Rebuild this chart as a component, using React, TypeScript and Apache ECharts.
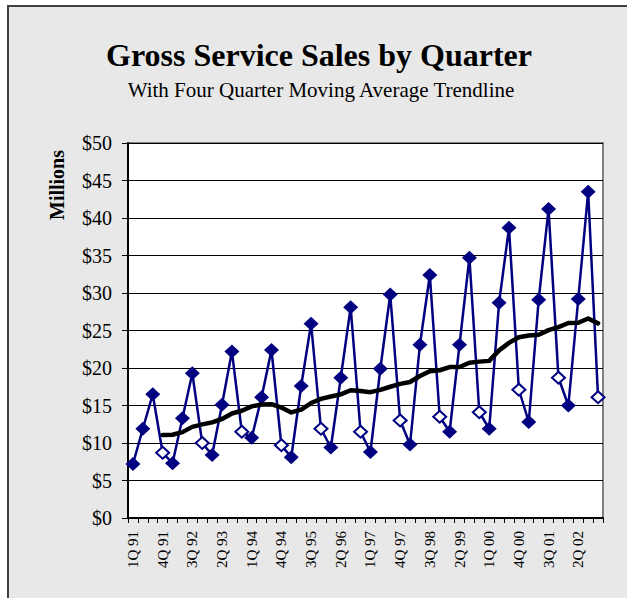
import React, { useEffect, useRef } from "react";
import * as echarts from "echarts";

const quarters = [
  "1Q 91", "2Q 91", "3Q 91", "4Q 91",
  "1Q 92", "2Q 92", "3Q 92", "4Q 92",
  "1Q 93", "2Q 93", "3Q 93", "4Q 93",
  "1Q 94", "2Q 94", "3Q 94", "4Q 94",
  "1Q 95", "2Q 95", "3Q 95", "4Q 95",
  "1Q 96", "2Q 96", "3Q 96", "4Q 96",
  "1Q 97", "2Q 97", "3Q 97", "4Q 97",
  "1Q 98", "2Q 98", "3Q 98", "4Q 98",
  "1Q 99", "2Q 99", "3Q 99", "4Q 99",
  "1Q 00", "2Q 00", "3Q 00", "4Q 00",
  "1Q 01", "2Q 01", "3Q 01", "4Q 01",
  "1Q 02", "2Q 02", "3Q 02", "4Q 02",
];

const grossSales = [
  7.2, 11.9, 16.5, 8.7,
  7.3, 13.3, 19.3, 10.0,
  8.4, 15.1, 22.2, 11.5,
  10.7, 16.1, 22.4, 9.7,
  8.1, 17.6, 25.9, 11.9,
  9.4, 18.7, 28.1, 11.5,
  8.8, 19.9, 29.8, 13.0,
  9.8, 23.1, 32.4, 13.5,
  11.5, 23.1, 34.7, 14.1,
  11.9, 28.7, 38.7, 17.1,
  12.8, 29.1, 41.2, 18.7,
  15.0, 29.2, 43.5, 16.1,
];

const movingAverage = [
  null, null, null, 11.08,
  11.1, 11.45, 12.15, 12.48,
  12.75, 13.2, 13.93, 14.3,
  14.88, 15.13, 15.18, 14.73,
  14.08, 14.45, 15.33, 15.88,
  16.2, 16.48, 17.03, 16.93,
  16.78, 17.08, 17.5, 17.88,
  18.13, 18.93, 19.58, 19.7,
  20.13, 20.13, 20.7, 20.85,
  20.95, 22.35, 23.35, 24.1,
  24.33, 24.43, 25.05, 25.45,
  26.0, 26.03, 26.6, 25.95,
];

const yTicks = { min: 0, max: 50, interval: 5 };

const titleText = "Gross Service Sales by Quarter";
const subtitleText = "With Four Quarter Moving Average Trendline";
const yAxisTitle = "Millions";

const SERIF = "'Liberation Serif', 'Times New Roman', serif";
const NAVY = "#000080";

export default function App() {
  const ref = useRef<HTMLDivElement>(null);

  useEffect(() => {
    if (!ref.current) return;
    const chart = echarts.init(ref.current, undefined, { renderer: "svg" });

    const salesData = grossSales.map((v, i) => {
      const hollow = quarters[i].startsWith("4Q");
      return hollow
        ? {
            value: v,
            symbolSize: [13, 12],
            itemStyle: { color: "#ffffff", borderColor: NAVY, borderWidth: 2 },
          }
        : { value: v, symbolSize: [15, 14], itemStyle: { color: NAVY, borderWidth: 0 } };
    });

    chart.setOption({
      animation: false,
      backgroundColor: "#ffffff",
      textStyle: { fontFamily: SERIF },
      graphic: [
        {
          type: "rect",
          z: -100,
          silent: true,
          shape: { x: 8, y: 6, width: 700, height: 700 },
          style: { fill: "#e8e8e8", stroke: "#404040", lineWidth: 2 },
        },
        {
          type: "text",
          x: 319,
          y: 55,
          style: {
            text: titleText,
            font: `bold 32px ${SERIF}`,
            fill: "#000",
            align: "center",
            verticalAlign: "middle",
          },
        },
        {
          type: "text",
          x: 321,
          y: 90,
          style: {
            text: subtitleText,
            font: `21px ${SERIF}`,
            fill: "#000",
            align: "center",
            verticalAlign: "middle",
          },
        },
        {
          type: "text",
          x: 57,
          y: 185,
          rotation: Math.PI / 2,
          style: {
            text: yAxisTitle,
            font: `bold 20px ${SERIF}`,
            fill: "#000",
            align: "center",
            verticalAlign: "middle",
          },
        },
      ],
      grid: {
        left: 128,
        top: 143,
        right: 24,
        bottom: 80,
        show: true,
        backgroundColor: "#ffffff",
        borderColor: "#808080",
        borderWidth: 2,
      },
      xAxis: {
        type: "category",
        data: quarters,
        boundaryGap: true,
        axisLine: { lineStyle: { color: "#000", width: 2 } },
        axisTick: {
          show: true,
          interval: 0,
          alignWithLabel: false,
          length: 5,
          lineStyle: { color: "#000", width: 1 },
        },
        axisLabel: {
          interval: 2,
          rotate: 90,
          margin: 13,
          fontSize: 15,
          color: "#000",
          fontFamily: SERIF,
        },
        splitLine: { show: false },
      },
      yAxis: {
        type: "value",
        min: yTicks.min,
        max: yTicks.max,
        interval: yTicks.interval,
        axisLine: { show: true, lineStyle: { color: "#000", width: 2 } },
        axisTick: { show: true, length: 6, lineStyle: { color: "#000", width: 1 } },
        axisLabel: {
          formatter: (v: number) => "$" + v,
          fontSize: 20,
          margin: 16,
          color: "#000",
          fontFamily: SERIF,
        },
        splitLine: { show: true, lineStyle: { color: "#000", width: 1 } },
      },
      series: [
        {
          name: "Gross Service Sales",
          type: "line",
          data: salesData,
          symbol: "diamond",
          showSymbol: true,
          showAllSymbol: true,
          lineStyle: { color: NAVY, width: 2.5 },
          z: 3,
        },
        {
          name: "Four Quarter Moving Average",
          type: "line",
          data: movingAverage,
          symbol: "none",
          connectNulls: false,
          lineStyle: { color: "#000", width: 4.5, join: "round", cap: "round" },
          z: 4,
        },
      ],
    });

    return () => chart.dispose();
  }, []);

  return (
    <div
      ref={ref}
      style={{ position: "absolute", left: 0, top: 0, width: 627, height: 598 }}
    />
  );
}
